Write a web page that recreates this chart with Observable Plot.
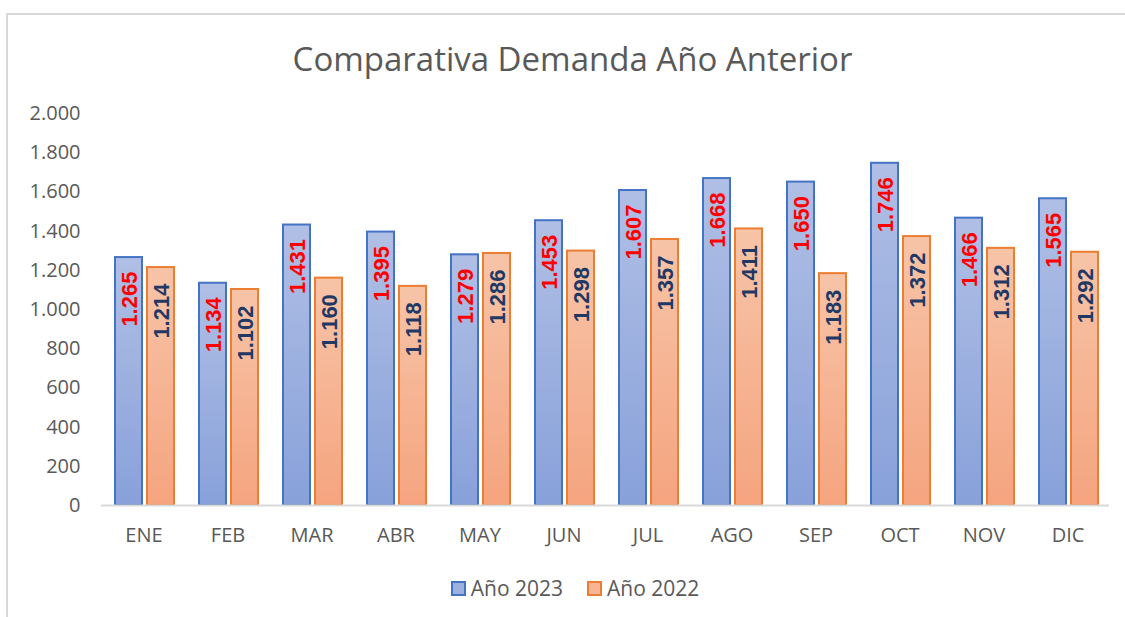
<!DOCTYPE html>
<html>
<head>
<meta charset="utf-8">
<script src="https://cdn.jsdelivr.net/npm/d3@7"></script>
<script src="https://cdn.jsdelivr.net/npm/@observablehq/plot@0.6"></script>
<style>
  html, body { margin: 0; padding: 0; background: #fff; width: 1125px; height: 617px; overflow: hidden; }
  #frame { position: absolute; left: 6px; top: 13px; width: 1200px; height: 700px; border-left: 2px solid #d9d9d9; border-top: 2px solid #d9d9d9; }
  #title { position: absolute; left: 0; width: 1145px; top: 36px; text-align: center; font-family: "Open Sans", sans-serif; font-size: 33px; color: #595959; }
  #chart { position: absolute; left: 0; top: 100px; }
  #legend { position: absolute; left: 0; width: 1150px; top: 574px; text-align: center; font-family: "Open Sans", sans-serif; font-size: 21px; color: #595959; }
  .item { display: inline-block; margin: 0 12px; }
  .sw { display: inline-block; width: 11px; height: 11px; vertical-align: 0px; margin-right: 5px; }
</style>
</head>
<body>
<div id="frame"></div>
<div id="title">Comparativa Demanda Año Anterior</div>
<div id="chart"></div>
<div id="legend"></div>
<script>
const months = ["ENE","FEB","MAR","ABR","MAY","JUN","JUL","AGO","SEP","OCT","NOV","DIC"];
const v2023 = [1265,1134,1431,1395,1279,1453,1607,1668,1650,1746,1466,1565];
const v2022 = [1214,1102,1160,1118,1286,1298,1357,1411,1183,1372,1312,1292];
const yTicks = [0,200,400,600,800,1000,1200,1400,1600,1800,2000];
const seriesNames = ["Año 2023","Año 2022"];

const d2023 = months.map((m,i) => ({month: m, value: v2023[i]}));
const d2022 = months.map((m,i) => ({month: m, value: v2022[i]}));

const loc = d3.formatLocale({decimal: ",", thousands: ".", grouping: [3], currency: ["", ""]});
const fmt = loc.format(",d");

const chart = Plot.plot({
  width: 1125,
  height: 460,
  marginTop: 13,
  marginBottom: 55,
  marginLeft: 101,
  marginRight: 16,
  style: {fontFamily: "Open Sans, sans-serif", fontSize: "20px", color: "#595959", background: "transparent"},
  x: {domain: months, paddingInner: 0.68, paddingOuter: 0.34, label: null, tickSize: 0, tickPadding: 22},
  y: {domain: [0, 2000], ticks: yTicks, tickFormat: fmt, label: null, tickSize: 0, tickPadding: 21},
  marks: [
    Plot.barY(d2023, {x: "month", y: "value", dx: -15, fill: "url(#gBlue)", stroke: "#4472C4", strokeWidth: 2}),
    Plot.barY(d2022, {x: "month", y: "value", dx: 17, fill: "url(#gOrange)", stroke: "#ED7D31", strokeWidth: 2}),
    Plot.ruleY([0], {stroke: "#d9d9d9", strokeWidth: 2}),
    Plot.text(d2023, {x: "month", y: "value", text: d => fmt(d.value), rotate: -90, textAnchor: "end", dx: -14, dy: 14, fill: "#FF0000", fontWeight: "bold", fontSize: 22, fontFamily: "Liberation Sans, Arial, sans-serif"}),
    Plot.text(d2022, {x: "month", y: "value", text: d => fmt(d.value), rotate: -90, textAnchor: "end", dx: 18, dy: 16, fill: "#1F3864", fontWeight: "bold", fontSize: 22, fontFamily: "Liberation Sans, Arial, sans-serif"})
  ]
});

d3.select(chart).insert("defs", ":first-child").html(`
  <linearGradient id="gBlue" x1="0" y1="0" x2="0" y2="1">
    <stop offset="0" stop-color="#B0BFE5"/>
    <stop offset="1" stop-color="#88A1DA"/>
  </linearGradient>
  <linearGradient id="gOrange" x1="0" y1="0" x2="0" y2="1">
    <stop offset="0" stop-color="#F7C4A8"/>
    <stop offset="1" stop-color="#F5A47F"/>
  </linearGradient>`);

document.getElementById("chart").appendChild(chart);

const legend = d3.select("#legend");
const swatches = [["#4472C4", "#9DB1DF"], ["#ED7D31", "#F6B595"]];
seriesNames.forEach((name, i) => {
  const it = legend.append("span").attr("class", "item");
  it.append("span").attr("class", "sw").style("border", `2px solid ${swatches[i][0]}`).style("background", swatches[i][1]);
  it.append("span").text(name);
});
</script>
</body>
</html>
